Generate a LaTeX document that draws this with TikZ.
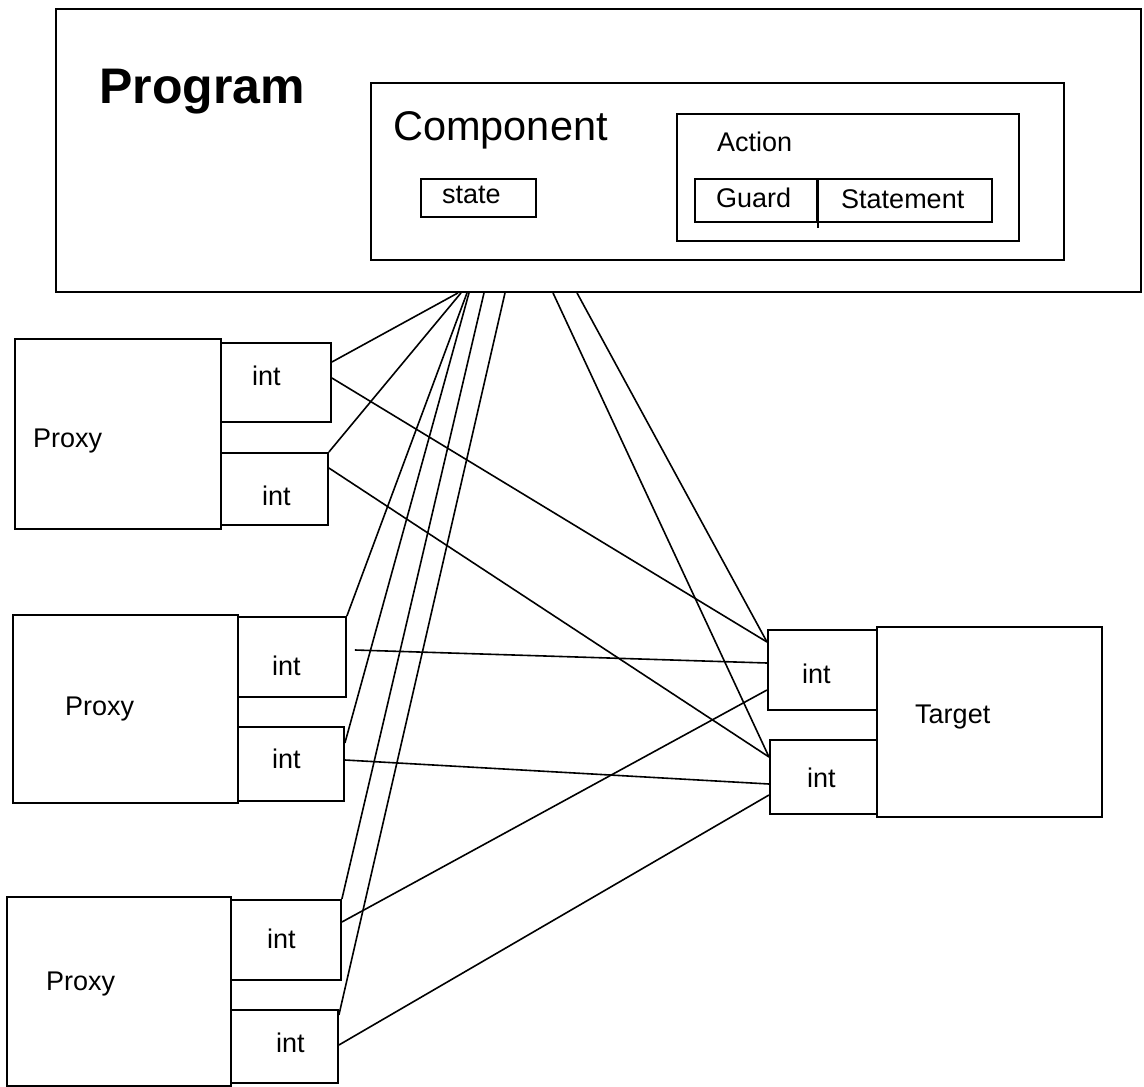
\documentclass[tikz,border=0pt]{standalone}
\usepackage{fontspec}
\setmainfont{Liberation Sans}
\usetikzlibrary{calc}
\begin{document}
\begin{tikzpicture}[x=1pt,y=-1pt,
  box/.style={draw=black,line width=1.9pt,rectangle,inner sep=0pt,anchor=north west},
  conn/.style={draw=black,line width=1.6pt},
  lbl/.style={anchor=base west,inner sep=0pt,font=\fontsize{27}{30}\selectfont},
  big/.style={anchor=base west,inner sep=0pt,font=\fontsize{41.5}{44}\selectfont},
  huge/.style={anchor=base west,inner sep=0pt,font=\fontsize{50}{52}\selectfont\bfseries}]
\useasboundingbox (0,0) rectangle (1144,1087);
% Program
\node[box,minimum width=1085pt,minimum height=283pt] (prog) at (55,8) {};
\node[huge] (progt) at (99,103) {Program};
\node[box,minimum width=693pt,minimum height=177pt] (comp) at (370,82) {};
\node[big] (compt) at (393,140) {Component};
\node[box,minimum width=115pt,minimum height=38pt] (state) at (420,178) {};
\node[lbl] (statet) at (442,203) {state};
\node[box,minimum width=342pt,minimum height=127pt] (action) at (676,113) {};
\node[lbl] (actiont) at (717,151) {Action};
\node[box,minimum width=122pt,minimum height=43pt] (guard) at (694,178) {};
\node[box,minimum width=175pt,minimum height=43pt] (stmt) at (816,178) {};
\draw[line width=1.6pt] (guard.north east) -- ($(guard.south east)+(0,5)$);
\node[lbl] (guardt) at (716,207) {Guard};
\node[lbl] (stmtt) at (841,208) {Statement};
% Proxy 1
\node[box,minimum width=206pt,minimum height=190pt] (p1) at (14,338) {};
\node[box,minimum width=110pt,minimum height=79pt] (p1i1) at (220,342) {};
\node[box,minimum width=107pt,minimum height=72pt] (p1i2) at (220,452) {};
\node[lbl] (p1t) at (33,447) {Proxy};
\node[lbl] (p1i1t) at (252,385) {int};
\node[lbl] (p1i2t) at (262,505) {int};
% Proxy 2
\node[box,minimum width=225pt,minimum height=188pt] (p2) at (12,614) {};
\node[box,minimum width=108pt,minimum height=80pt] (p2i1) at (237,616) {};
\node[box,minimum width=106pt,minimum height=74pt] (p2i2) at (237,726) {};
\node[lbl] (p2t) at (65,715) {Proxy};
\node[lbl] (p2i1t) at (272,675) {int};
\node[lbl] (p2i2t) at (272,768) {int};
% Proxy 3
\node[box,minimum width=224pt,minimum height=189pt] (p3) at (6,896) {};
\node[box,minimum width=110pt,minimum height=80pt] (p3i1) at (230,899) {};
\node[box,minimum width=107pt,minimum height=73pt] (p3i2) at (230,1009) {};
\node[lbl] (p3t) at (46,990) {Proxy};
\node[lbl] (p3i1t) at (267,948) {int};
\node[lbl] (p3i2t) at (276,1052) {int};
% Target
\node[box,minimum width=225pt,minimum height=190pt] (tg) at (876,626) {};
\node[box,minimum width=109pt,minimum height=80pt] (ti1) at (767,629) {};
\node[box,minimum width=107pt,minimum height=74pt] (ti2) at (769,739) {};
\node[lbl] (tgt) at (915,723) {Target};
\node[lbl] (ti1t) at (802,683) {int};
\node[lbl] (ti2t) at (807,787) {int};
% connection points on program
\coordinate (c1) at ($(prog.south west)+(403,0)$);
\coordinate (c2) at ($(prog.south west)+(406,0)$);
\coordinate (c3) at ($(prog.south west)+(412,0)$);
\coordinate (c4) at ($(prog.south west)+(414,0)$);
\coordinate (c5) at ($(prog.south west)+(429,0)$);
\coordinate (c6) at ($(prog.south west)+(450,0)$);
\coordinate (c7) at ($(prog.south west)+(498,0)$);
\coordinate (c8) at ($(prog.south west)+(522,0)$);
% connectors from program
\draw[conn] (c1) -- ($(p1i1.north east)+(0,20)$);
\draw[conn] (c2) -- (p1i2.north east);
\draw[conn] (c3) -- (p2i1.north east);
\draw[conn] (c4) -- ($(p2i2.north east)+(0,17)$);
\draw[conn] (c5) -- (p3i1.north east);
\draw[conn] (c6) -- ($(p3i2.north east)+(0,6)$);
\draw[conn] (c7) -- ($(ti2.north west)+(0,18)$);
\draw[conn] (c8) -- ($(ti1.north west)+(0,13)$);
% connectors proxies to target
\draw[conn] ($(p1i1.north east)+(0,36)$) -- ($(ti1.north west)+(0,13)$);
\draw[conn] ($(p1i2.north east)+(0,16)$) -- ($(ti2.north west)+(0,18)$);
\draw[conn] ($(p2i1.north east)+(8,34)$) -- ($(ti1.north west)+(0,34)$);
\draw[conn] ($(p2i2.north east)+(0,34)$) -- ($(ti2.north west)+(0,45)$);
\draw[conn] ($(p3i1.north east)+(0,23)$) -- ($(ti1.north west)+(0,61)$);
\draw[conn] ($(p3i2.north east)+(0,36)$) -- ($(ti2.north west)+(0,56)$);
\end{tikzpicture}
\end{document}
